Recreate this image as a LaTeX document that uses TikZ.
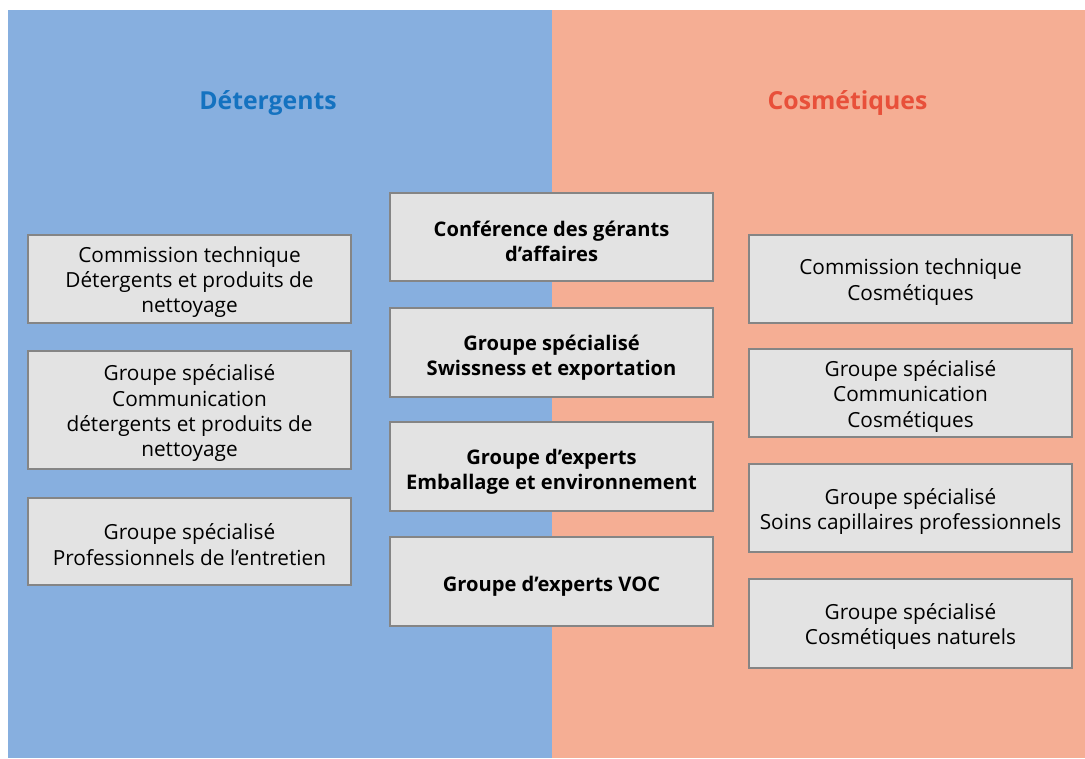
\documentclass[tikz,border=0pt]{standalone}
\usepackage{fontspec}
\setmainfont{Open Sans}
\definecolor{bgblue}{HTML}{87AFDF}
\definecolor{bgpink}{HTML}{F5AE94}
\definecolor{boxfill}{HTML}{E3E3E3}
\definecolor{boxdraw}{HTML}{858585}
\definecolor{titblue}{HTML}{1472C0}
\definecolor{titred}{HTML}{E8503A}
\begin{document}
\begin{tikzpicture}[x=0.75pt,y=-0.75pt,
  cbox/.style={draw=boxdraw, fill=boxfill, line width=1.5pt, minimum width=242.25pt,
    inner sep=0pt},
  ctext/.style={align=center, inner sep=0pt, yshift=-2.4pt,
    font=\fontsize{15.6}{19}\selectfont, text=black},
  mtext/.style={ctext, yshift=-1.5pt, font=\fontsize{15.1}{18.8}\selectfont\bfseries},
  coltitle/.style={font=\fontsize{18.6}{23}\selectfont\bfseries}]
\useasboundingbox (0,0) rectangle (1085,758);
\fill[bgblue] (8,10) rectangle (552,758);
\fill[bgpink] (552,10) rectangle (1085,758);
\node[coltitle, text=titblue] (tdet) at (268,103) {Détergents};
\node[coltitle, text=titred] (tcos) at (847.5,103) {Cosmétiques};
% left column
\node[cbox, minimum height=66pt] (l1) at (189.5,279) {};
\node[cbox, minimum height=88.5pt] (l2) at (189.5,410) {};
\node[cbox, minimum height=65.25pt] (l3) at (189.5,541.5) {};
\node[ctext] (l1t) at (l1.center) {Commission technique\\Détergents et produits de\\nettoyage};
\node[ctext] (l2t) at (l2.center) {Groupe spécialisé\\Communication\\détergents et produits de\\nettoyage};
\node[ctext] (l3t) at (l3.center) {Groupe spécialisé\\Professionnels de l’entretien};
% middle column
\node[cbox, minimum height=66pt] (m1) at (551.5,237) {};
\node[cbox, minimum height=66.75pt] (m2) at (551.5,352.5) {};
\node[cbox, minimum height=66.75pt] (m3) at (551.5,466.5) {};
\node[cbox, minimum height=66.75pt] (m4) at (551.5,581.5) {};
\node[mtext, yshift=0.6pt] (m1t) at (m1.center) {Conférence des gérants\\d’affaires};
\node[mtext] (m2t) at (m2.center) {Groupe spécialisé\\Swissness et exportation};
\node[mtext] (m3t) at (m3.center) {Groupe d’experts\\Emballage et environnement};
\node[mtext] (m4t) at (m4.center) {Groupe d’experts VOC};
% right column
\node[cbox, minimum height=66pt] (r1) at (910.5,279) {};
\node[cbox, minimum height=66pt] (r2) at (910.5,393) {};
\node[cbox, minimum height=66pt] (r3) at (910.5,508) {};
\node[cbox, minimum height=66.75pt] (r4) at (910.5,623) {};
\node[ctext] (r1t) at (r1.center) {Commission technique\\Cosmétiques};
\node[ctext] (r2t) at (r2.center) {Groupe spécialisé\\Communication\\Cosmétiques};
\node[ctext] (r3t) at (r3.center) {Groupe spécialisé\\Soins capillaires professionnels};
\node[ctext] (r4t) at (r4.center) {Groupe spécialisé\\Cosmétiques naturels};
\end{tikzpicture}
\end{document}
